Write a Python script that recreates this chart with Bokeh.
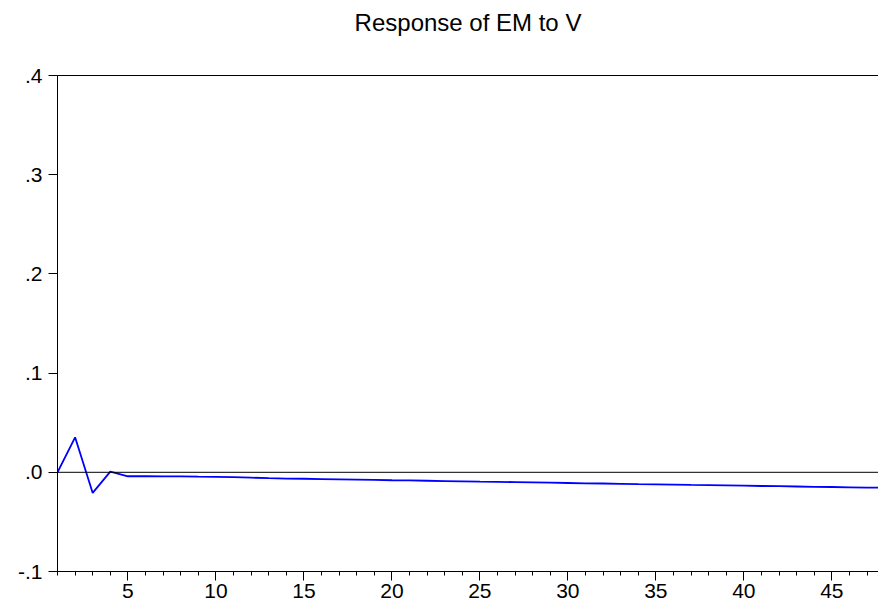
from bokeh.plotting import figure
from bokeh.models import (Range1d, FixedTicker, LinearAxis, Span, CustomJSTickFormatter,
                          ColumnDataSource)
from bokeh.embed import file_html
from bokeh.resources import INLINE

# ---- data ----
periods = list(range(1, 49))
response = [
    0.0000, 0.0353, -0.0208, 0.0007, -0.0040, -0.0038, -0.0041, -0.0041,
    -0.0044, -0.0046, -0.0049, -0.0054, -0.0059, -0.0063, -0.0065, -0.0068,
    -0.0071, -0.0074, -0.0077, -0.0080, -0.0082, -0.0085, -0.0088, -0.0091,
    -0.0094, -0.0096, -0.0099, -0.0102, -0.0105, -0.0108, -0.0111, -0.0113,
    -0.0116, -0.0119, -0.0121, -0.0124, -0.0127, -0.0129, -0.0132, -0.0135,
    -0.0138, -0.0140, -0.0143, -0.0146, -0.0148, -0.0151, -0.0154, -0.0156,
]
x_major_ticks = [5, 10, 15, 20, 25, 30, 35, 40, 45]
y_ticks = [-0.1, 0.0, 0.1, 0.2, 0.3, 0.4]
title_text = "Response of EM to V"

FONT = "Liberation Sans"

p = figure(width=878, height=607, output_backend="svg", toolbar_location=None,
           x_range=Range1d(1, 47.65), y_range=Range1d(-0.1, 0.4),
           x_axis_type=None, y_axis_type=None,
           min_border_left=57, min_border_right=0, min_border_top=75,
           min_border_bottom=36)

p.outline_line_color = None
p.xgrid.visible = False
p.ygrid.visible = False
p.background_fill_color = "white"
p.border_fill_color = "white"

# bottom axis
xa = LinearAxis(ticker=FixedTicker(ticks=x_major_ticks, minor_ticks=periods))
xa.major_tick_out = 9
xa.major_tick_in = 0
xa.minor_tick_out = 4
xa.minor_tick_in = 0
xa.axis_line_color = "black"
xa.major_tick_line_color = "black"
xa.minor_tick_line_color = "black"
xa.major_label_text_font = FONT
xa.major_label_text_font_size = "21px"
xa.major_label_text_color = "black"
xa.major_label_standoff = 3
p.add_layout(xa, "below")

# left axis
ya = LinearAxis(ticker=FixedTicker(ticks=y_ticks))
ya.formatter = CustomJSTickFormatter(code='return tick.toFixed(1).replace("0.", ".");')
ya.major_tick_out = 9
ya.major_tick_in = 0
ya.minor_tick_out = 0
ya.minor_tick_in = 0
ya.axis_line_color = "black"
ya.major_tick_line_color = "black"
ya.major_label_text_font = FONT
ya.major_label_text_font_size = "21px"
ya.major_label_text_color = "black"
ya.major_label_standoff = 6
p.add_layout(ya, "left")

# top border line, carrying the chart title as its label
ta = LinearAxis(ticker=FixedTicker(ticks=[]), axis_label=title_text)
ta.major_tick_line_color = None
ta.minor_tick_line_color = None
ta.major_tick_out = 0
ta.minor_tick_out = 0
ta.major_label_text_font_size = "0px"
ta.major_label_standoff = 0
ta.axis_line_color = "black"
ta.axis_label_text_font = FONT
ta.axis_label_text_font_size = "24px"
ta.axis_label_text_font_style = "normal"
ta.axis_label_text_color = "black"
ta.axis_label_standoff = 40
p.add_layout(ta, "above")

# zero line
p.add_layout(Span(location=0, dimension="width", line_color="black", line_width=1))

src = ColumnDataSource(dict(t=periods, r=response))
p.line("t", "r", source=src, line_color="#0000FF", line_width=1.8)

open("out.html", "w").write(file_html(p, INLINE))
